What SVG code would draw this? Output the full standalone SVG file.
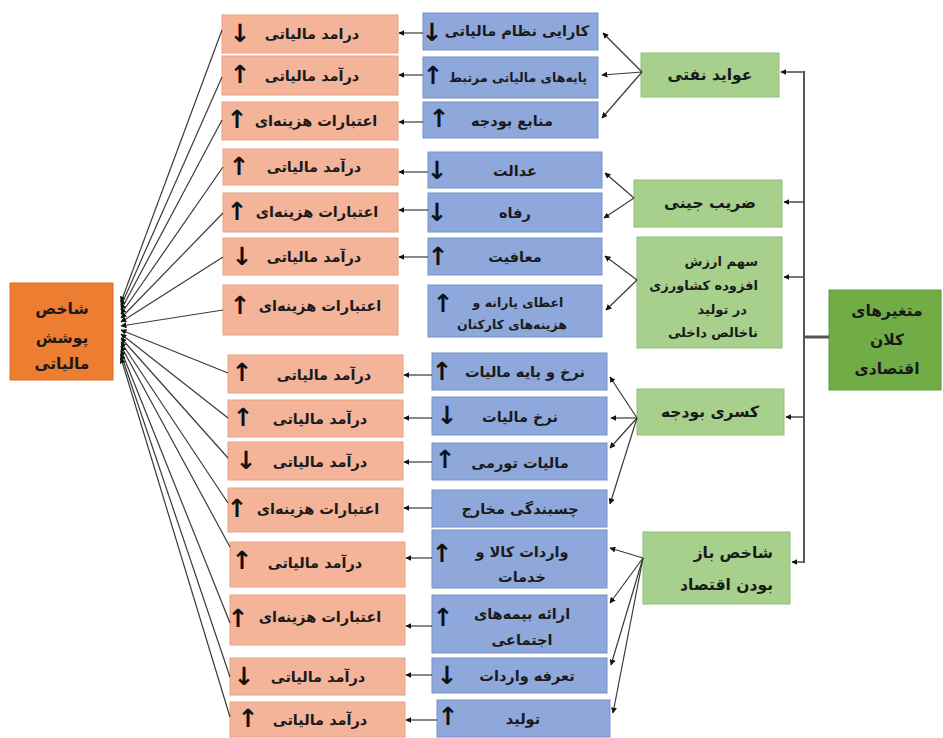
<svg xmlns="http://www.w3.org/2000/svg" width="943" height="738" viewBox="0 0 943 738">
<style>
.bg{fill:#ffffff}
.res rect{fill:#F4B49A;stroke:#E9A181;stroke-width:1}
.mid rect{fill:#8FA8DC;stroke:#7690CC;stroke-width:1}
.grn rect{fill:#A8D08D;stroke:#93C078;stroke-width:1}
.big rect{fill:#70AD47;stroke:#5F9A3A;stroke-width:1}
.tgt rect{fill:#ED7D31;stroke:#D96C22;stroke-width:1}
text{font-family:"DejaVu Sans","Noto Sans",sans-serif;font-weight:bold;fill:#1a1a1a;font-size:14.5px;dominant-baseline:central}
.c{text-anchor:middle}
.lg{font-size:15.5px}
.ar{font-size:25px;font-weight:bold;text-anchor:middle;fill:#111}
.con line{stroke:#3a3a3a;stroke-width:1.2;fill:none;marker-end:url(#ah)}
.tree line{stroke:#555;stroke-width:2;fill:none}
.tree .br{stroke:#555;stroke-width:1.6;marker-end:url(#ah)}
</style>
<defs>
<marker id="ah" viewBox="0 0 10 10" refX="9" refY="5" markerWidth="6" markerHeight="6" markerUnits="userSpaceOnUse" orient="auto">
<path d="M0,0 L10,5 L0,10 z" fill="#111"/>
</marker>
</defs>
<rect class="bg" x="0" y="0" width="943" height="738"/>

<g id="target" class="tgt">
<rect x="10" y="283" width="103" height="97"/>
<text class="c lg" x="62" y="309">شاخص</text>
<text class="c lg" x="62" y="338">پوشش</text>
<text class="c lg" x="62" y="364">مالیاتی</text>
</g>

<g id="macro" class="big">
<rect x="829" y="290" width="112" height="100"/>
<text class="c lg" x="887" y="311">متغیرهای</text>
<text class="c lg" x="887" y="340">کلان</text>
<text class="c lg" x="887" y="369">اقتصادی</text>
</g>

<g id="g1" class="grn"><rect x="641" y="53" width="138" height="44"/><text class="c lg" x="710" y="75">عواید نفتی</text></g>
<g id="g2" class="grn"><rect x="634" y="180" width="148" height="47"/><text class="c lg" x="710" y="203">ضریب جینی</text></g>
<g id="g3" class="grn"><rect x="637" y="237" width="145" height="111"/>
<text x="758" y="261" text-anchor="end" style="font-size:13px">سهم ارزش</text>
<text x="758" y="285" text-anchor="end" style="font-size:13px">افزوده کشاورزی</text>
<text x="747" y="309" text-anchor="end" style="font-size:13px">در تولید</text>
<text x="758" y="332" text-anchor="end" style="font-size:13px">ناخالص داخلی</text>
</g>
<g id="g4" class="grn"><rect x="637" y="389" width="147" height="46"/><text class="c lg" x="710" y="412">کسری بودجه</text></g>
<g id="g5" class="grn"><rect x="643" y="532" width="147" height="72"/>
<text class="lg" x="773" y="553" text-anchor="end">شاخص باز</text>
<text class="lg" x="773" y="585" text-anchor="end">بودن اقتصاد</text>
</g>

<g id="b1" class="mid"><rect x="423" y="13" width="175" height="37"/><text class="c" x="517" y="31">کارایی نظام مالیاتی</text><text class="ar" x="432" y="32">↓</text></g>
<g id="b2" class="mid"><rect x="423" y="57" width="175" height="41"/><text class="c" x="518" y="77" style="font-size:12.5px">پایه‌های مالیاتی مرتبط</text><text class="ar" x="433" y="75">↑</text></g>
<g id="b3" class="mid"><rect x="423" y="102" width="175" height="36"/><text class="c" x="512" y="121">منابع بودجه</text><text class="ar" x="439" y="118">↑</text></g>
<g id="b4" class="mid"><rect x="428" y="152" width="174" height="36"/><text class="c" x="515" y="171">عدالت</text><text class="ar" x="437" y="170">↓</text></g>
<g id="b5" class="mid"><rect x="428" y="193" width="174" height="39"/><text class="c" x="515" y="213">رفاه</text><text class="ar" x="437" y="212">↓</text></g>
<g id="b6" class="mid"><rect x="428" y="238" width="174" height="37"/><text class="c" x="515" y="257">معافیت</text><text class="ar" x="438" y="256">↑</text></g>
<g id="b7" class="mid"><rect x="428" y="285" width="174" height="52"/><text class="c" x="518" y="302" style="font-size:12.5px">اعطای یارانه و</text><text class="c" x="512" y="324" style="font-size:12.5px">هزینه‌های کارکنان</text><text class="ar" x="443" y="303">↑</text></g>
<g id="b8" class="mid"><rect x="432" y="353" width="175" height="37"/><text class="c" x="525" y="372">نرخ و پایه مالیات</text><text class="ar" x="442" y="371">↑</text></g>
<g id="b9" class="mid"><rect x="432" y="397" width="175" height="38"/><text class="c" x="520" y="417">نرخ مالیات</text><text class="ar" x="447" y="415">↓</text></g>
<g id="b10" class="mid"><rect x="432" y="443" width="175" height="37"/><text class="c" x="520" y="463">مالیات تورمی</text><text class="ar" x="445" y="459">↑</text></g>
<g id="b11" class="mid"><rect x="432" y="490" width="175" height="37"/><text class="c" x="520" y="509">چسبندگی مخارج</text></g>
<g id="b12" class="mid"><rect x="432" y="530" width="175" height="58"/><text class="c" x="522" y="552">واردات کالا و</text><text class="c" x="522" y="577">خدمات</text><text class="ar" x="442" y="553">↑</text></g>
<g id="b13" class="mid"><rect x="432" y="595" width="175" height="58"/><text class="c" x="522" y="614">ارائه بیمه‌های</text><text class="c" x="522" y="640">اجتماعی</text><text class="ar" x="443" y="617">↑</text></g>
<g id="b14" class="mid"><rect x="432" y="658" width="175" height="35"/><text class="c" x="527" y="676">تعرفه واردات</text><text class="ar" x="447" y="675">↓</text></g>
<g id="b15" class="mid"><rect x="437" y="700" width="173" height="37"/><text class="c" x="523" y="719">تولید</text><text class="ar" x="448" y="716">↑</text></g>

<g id="r1" class="res"><rect x="222" y="15" width="176" height="38"/><text class="c" x="312" y="34">درامد مالیاتی</text><text class="ar" x="240" y="33">↓</text></g>
<g id="r2" class="res"><rect x="222" y="56" width="176" height="39"/><text class="c" x="312" y="76">درآمد مالیاتی</text><text class="ar" x="240" y="74">↑</text></g>
<g id="r3" class="res"><rect x="222" y="102" width="176" height="38"/><text class="c" x="316" y="121">اعتبارات هزینه‌ای</text><text class="ar" x="237" y="119">↑</text></g>
<g id="r4" class="res"><rect x="223" y="149" width="175" height="36"/><text class="c" x="314" y="167">درآمد مالیاتی</text><text class="ar" x="239" y="166">↑</text></g>
<g id="r5" class="res"><rect x="223" y="193" width="175" height="39"/><text class="c" x="317" y="212">اعتبارات هزینه‌ای</text><text class="ar" x="237" y="211">↑</text></g>
<g id="r6" class="res"><rect x="223" y="238" width="175" height="37"/><text class="c" x="314" y="257">درآمد مالیاتی</text><text class="ar" x="242" y="256">↓</text></g>
<g id="r7" class="res"><rect x="223" y="285" width="175" height="50"/><text class="c" x="320" y="306">اعتبارات هزینه‌ای</text><text class="ar" x="240" y="305">↑</text></g>
<g id="r8" class="res"><rect x="228" y="355" width="175" height="38"/><text class="c" x="324" y="375">درآمد مالیاتی</text><text class="ar" x="242" y="372">↑</text></g>
<g id="r9" class="res"><rect x="228" y="400" width="175" height="37"/><text class="c" x="320" y="419">درآمد مالیاتی</text><text class="ar" x="243" y="417">↑</text></g>
<g id="r10" class="res"><rect x="228" y="442" width="175" height="38"/><text class="c" x="320" y="462">درآمد مالیاتی</text><text class="ar" x="246" y="460">↓</text></g>
<g id="r11" class="res"><rect x="228" y="488" width="175" height="44"/><text class="c" x="318" y="509">اعتبارات هزینه‌ای</text><text class="ar" x="237" y="508">↑</text></g>
<g id="r12" class="res"><rect x="230" y="542" width="175" height="45"/><text class="c" x="315" y="563">درآمد مالیاتی</text><text class="ar" x="242" y="560">↑</text></g>
<g id="r13" class="res"><rect x="230" y="595" width="175" height="50"/><text class="c" x="320" y="617">اعتبارات هزینه‌ای</text><text class="ar" x="238" y="618">↑</text></g>
<g id="r14" class="res"><rect x="230" y="658" width="175" height="37"/><text class="c" x="318" y="677">درآمد مالیاتی</text><text class="ar" x="244" y="676">↓</text></g>
<g id="r15" class="res"><rect x="230" y="702" width="175" height="35"/><text class="c" x="320" y="720">درآمد مالیاتی</text><text class="ar" x="248" y="718">↑</text></g>

<g id="connectors">
<g class="tree">
<line x1="804" y1="71" x2="804" y2="563"/>
<line x1="829" y1="337" x2="803" y2="337" style="stroke-width:3"/>
<line class="br" x1="804" y1="72" x2="781" y2="72"/>
<line class="br" x1="804" y1="202" x2="784" y2="202"/>
<line class="br" x1="804" y1="277" x2="784" y2="277"/>
<line class="br" x1="804" y1="417" x2="786" y2="417"/>
<line class="br" x1="804" y1="562" x2="792" y2="562"/>
</g>
<g class="con">
<line x1="642" y1="72" x2="603" y2="33"/>
<line x1="642" y1="72" x2="602" y2="75"/>
<line x1="642" y1="72" x2="602" y2="118"/>
<line x1="634" y1="198" x2="605" y2="173"/>
<line x1="634" y1="198" x2="604" y2="218"/>
<line x1="637" y1="280" x2="605" y2="256"/>
<line x1="637" y1="280" x2="606" y2="310"/>
<line x1="637" y1="418" x2="610" y2="377"/>
<line x1="637" y1="418" x2="611" y2="418"/>
<line x1="637" y1="418" x2="610" y2="448"/>
<line x1="637" y1="418" x2="610" y2="504"/>
<line x1="643" y1="558" x2="610" y2="548"/>
<line x1="643" y1="558" x2="610" y2="603"/>
<line x1="643" y1="558" x2="611" y2="665"/>
<line x1="643" y1="558" x2="613" y2="713"/>

<line x1="423" y1="33" x2="399" y2="33"/>
<line x1="423" y1="75" x2="399" y2="75"/>
<line x1="423" y1="122" x2="399" y2="122"/>
<line x1="428" y1="172" x2="399" y2="172"/>
<line x1="428" y1="210" x2="399" y2="210"/>
<line x1="428" y1="257" x2="399" y2="257"/>
<line x1="432" y1="375" x2="404" y2="375"/>
<line x1="432" y1="418" x2="404" y2="418"/>
<line x1="432" y1="462" x2="404" y2="462"/>
<line x1="432" y1="508" x2="404" y2="508"/>
<line x1="432" y1="558" x2="406" y2="558"/>
<line x1="432" y1="626" x2="406" y2="626"/>
<line x1="432" y1="675" x2="406" y2="675"/>
<line x1="437" y1="720" x2="406" y2="720"/>

<line x1="222" y1="30" x2="121" y2="302"/>
<line x1="222" y1="77" x2="121" y2="306"/>
<line x1="222" y1="120" x2="121" y2="310"/>
<line x1="223" y1="167" x2="121" y2="314"/>
<line x1="223" y1="213" x2="121" y2="318"/>
<line x1="223" y1="257" x2="121" y2="322"/>
<line x1="223" y1="310" x2="121" y2="326"/>
<line x1="228" y1="373" x2="121" y2="330"/>
<line x1="228" y1="418" x2="121" y2="334"/>
<line x1="228" y1="458" x2="121" y2="338"/>
<line x1="228" y1="503" x2="121" y2="342"/>
<line x1="230" y1="547" x2="121" y2="346"/>
<line x1="230" y1="623" x2="121" y2="350"/>
<line x1="230" y1="677" x2="121" y2="354"/>
<line x1="230" y1="717" x2="121" y2="358"/>
</g>
</g>
</svg>
